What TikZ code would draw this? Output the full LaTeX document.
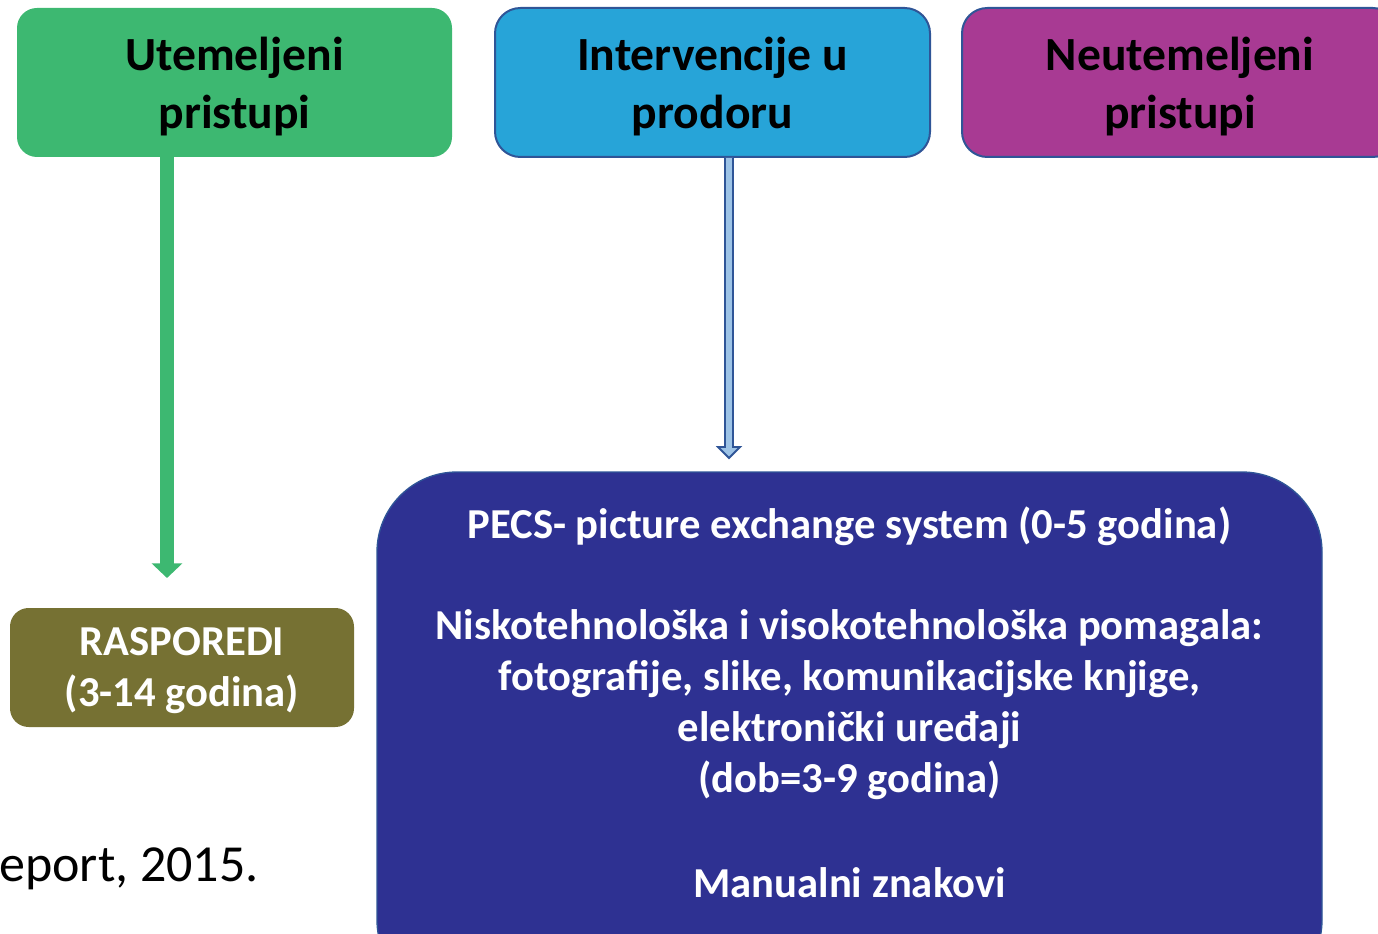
\documentclass[tikz,border=0pt]{standalone}
\usepackage{fontspec}
\setmainfont{Carlito}
\usetikzlibrary{arrows.meta,calc}
\definecolor{cgreen}{RGB}{61,184,113}
\definecolor{cblue}{RGB}{39,164,216}
\definecolor{cpurple}{RGB}{168,58,147}
\definecolor{colive}{RGB}{118,113,51}
\definecolor{cnavy}{RGB}{46,49,146}
\definecolor{cedge}{RGB}{47,85,151}
\definecolor{clight}{RGB}{157,195,230}
\tikzset{
  topbox/.style={inner sep=0pt, align=center,
    font=\fontsize{35.7}{43.5}\selectfont\bfseries, text=black},
  bodytext/.style={align=center, font=\fontsize{32}{38.25}\selectfont\bfseries, text=white},
}
\begin{document}
\begin{tikzpicture}[x=0.75pt,y=-0.75pt]
\useasboundingbox (0,0) rectangle (1378,934);
\clip (0,0) rectangle (1378,934);
% top boxes
\path[fill=cgreen, rounded corners=15] (17,8) rectangle (452,157);
\node[topbox] (b1) at (234.5,87) {Utemeljeni\\pristupi};
\path[fill=cblue, draw=cedge, line width=1.5pt, rounded corners=19] (495,8) rectangle (930,157);
\node[topbox] (b2) at (712.5,87) {Intervencije u\\prodoru};
\path[fill=cpurple, draw=cedge, line width=1.5pt, rounded corners=19] (962,8) rectangle (1398,157);
\node[topbox] (b3) at (1180,87) {Neutemeljeni\\pristupi};
% RASPOREDI box
\path[fill=colive, rounded corners=14] (10,608) rectangle (354,727);
\node[bodytext] (ras) at (182,671) {RASPOREDI\\(3-14 godina)};
% big navy box
\path[fill=cnavy, draw=cedge, line width=1pt, rounded corners=60] (377,472) rectangle (1322,1000);
\node[bodytext] (pecs) at (849.5,526) {PECS- picture exchange system (0-5 godina)};
\node[bodytext] (pom) at (849.5,705) {Niskotehnološka i visokotehnološka pomagala:\\fotografije, slike, komunikacijske knjige,\\elektronički uređaji\\(dob=3-9 godina)};
\node[bodytext] (man) at (849.5,883) {Manualni znakovi};
% citation fragment
\node[anchor=west, inner sep=0pt, font=\fontsize{39}{46}\selectfont] (cit) at (-1,869) {eport, 2015.};
% green arrow
\coordinate (g1) at (167,157);
\coordinate (g2) at (167,578);
\draw[cgreen, line width=10.5pt, -{Triangle[width=22.5pt,length=11pt]}] (g1) -- (g2);
% blue hollow arrow
\coordinate (a1) at (729,158);
\coordinate (a2) at (729,458);
\draw[cedge, line width=1.4pt, fill=clight, line join=miter]
  ($(a1)+(-4,0)$) -- ($(a2)+(-4,-11)$) -- ($(a2)+(-11,-11)$) -- (a2)
  -- ($(a2)+(11,-11)$) -- ($(a2)+(4,-11)$) -- ($(a1)+(4,0)$);
\end{tikzpicture}
\end{document}
